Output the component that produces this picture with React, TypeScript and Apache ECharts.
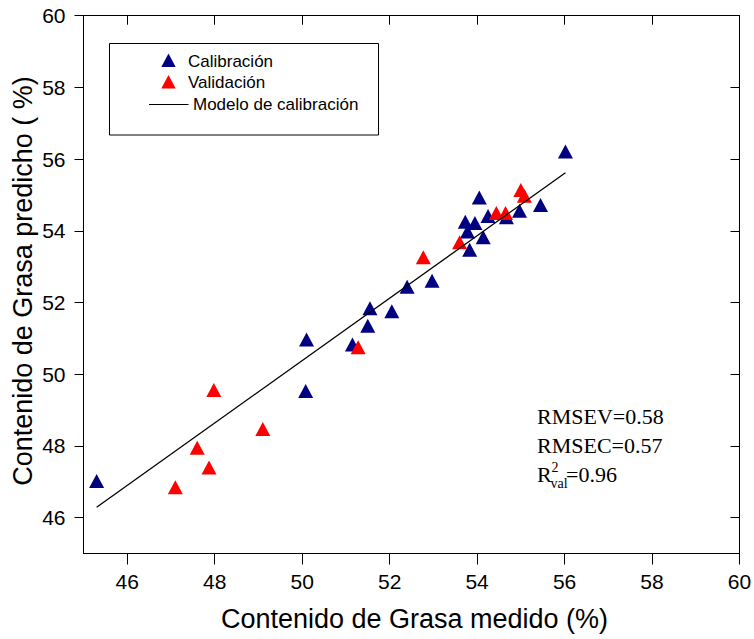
import React, { useEffect, useRef } from "react";
import * as echarts from "echarts";

// Calibration set: measured vs predicted fat content (%)
const calMeasured = [56.02, 54.05, 55.45, 54.97, 54.67, 54.25, 53.73, 53.95, 53.78, 54.14, 53.83, 52.97, 52.40, 51.55, 52.05, 51.50, 50.10, 51.15, 50.08, 45.30];
const calPredicted = [56.21, 54.93, 54.72, 54.56, 54.38, 54.41, 54.25, 54.22, 53.98, 53.82, 53.47, 52.61, 52.44, 51.84, 51.76, 51.35, 50.97, 50.83, 49.53, 47.02];

// Validation set
const valMeasured = [55.00, 55.08, 54.44, 54.65, 53.60, 52.77, 51.28, 47.98, 49.10, 47.60, 47.87, 47.10];
const valPredicted = [55.14, 54.98, 54.50, 54.50, 53.68, 53.26, 50.75, 49.56, 48.47, 47.95, 47.40, 46.85];

// Calibration model line end points
const modelMeasured = [45.30, 56.02];
const modelPredicted = [46.29, 55.62];

// Axis ticks
const xTicks = [46, 48, 50, 52, 54, 56, 58, 60];
const yTicks = [46, 48, 50, 52, 54, 56, 58, 60];

const statsLines = ["RMSEV=0.58", "RMSEC=0.57"];
const r2Value = "=0.96";

const legendNames = ["Calibración", "Validación", "Modelo de calibración"];

const NAVY = "#000080";
const RED = "#ff0000";
const SANS = "'Liberation Sans', Arial, sans-serif";
const SERIF = "'Liberation Serif', 'Times New Roman', serif";

const zip = (a: number[], b: number[]) => a.map((v, i) => [v, b[i]]);

function axisPair(kind: "x" | "y", ticks: number[]) {
  const main = {
    type: "value",
    min: 45,
    max: 60,
    position: kind === "x" ? "bottom" : "left",
    axisLine: { show: true, onZero: false, lineStyle: { color: "#000", width: 1 } },
    axisTick: {
      show: true,
      inside: false,
      length: kind === "x" ? 11 : 9,
      customValues: ticks,
      lineStyle: { color: "#000", width: 1 },
    },
    axisLabel: {
      show: true,
      customValues: ticks,
      margin: kind === "x" ? 17 : 18,
      fontSize: 21,
      color: "#000",
      fontFamily: SANS,
    },
    splitLine: { show: false },
  };
  const mirror = {
    type: "value",
    min: 45,
    max: 60,
    position: kind === "x" ? "top" : "right",
    axisLine: { show: true, onZero: false, lineStyle: { color: "#000", width: 1 } },
    axisTick: {
      show: true,
      inside: true,
      length: 9,
      customValues: ticks,
      lineStyle: { color: "#000", width: 1 },
    },
    axisLabel: { show: false },
    splitLine: { show: false },
  };
  return [main, mirror];
}

export default function App() {
  const ref = useRef<HTMLDivElement>(null);

  useEffect(() => {
    const chart = echarts.init(ref.current!, null, { renderer: "svg" });

    const triangle = (cx: number, cy: number, color: string) => ({
      type: "polygon",
      shape: { points: [[cx - 7.2, cy + 6.7], [cx + 7.2, cy + 6.7], [cx, cy - 6.7]] },
      style: { fill: color },
    });

    const legendText = (x: number, y: number, text: string) => ({
      type: "text",
      x,
      y,
      style: { text, fontSize: 17, fontFamily: SANS, fill: "#000", align: "left", verticalAlign: "middle" },
    });

    const statText = (x: number, y: number, text: string, size: number) => ({
      type: "text",
      x,
      y,
      style: { text, fontSize: size, fontFamily: SERIF, fill: "#000", align: "left", verticalAlign: "middle" },
    });

    chart.setOption({
      animation: false,
      backgroundColor: "#fff",
      grid: {
        left: 83.5,
        right: 14.5,
        top: 15.7,
        bottom: 85.5,
        containLabel: false,
        outerBoundsMode: "none",
      },
      xAxis: axisPair("x", xTicks),
      yAxis: axisPair("y", yTicks),
      series: [
        {
          name: legendNames[0],
          type: "scatter",
          xAxisIndex: 0,
          yAxisIndex: 0,
          symbol: "triangle",
          symbolSize: [15, 14],
          itemStyle: { color: NAVY, opacity: 1 },
          data: zip(calMeasured, calPredicted),
          z: 3,
        },
        {
          name: legendNames[1],
          type: "scatter",
          xAxisIndex: 0,
          yAxisIndex: 0,
          symbol: "triangle",
          symbolSize: [15, 14],
          itemStyle: { color: RED, opacity: 1 },
          data: zip(valMeasured, valPredicted),
          z: 4,
        },
        {
          name: legendNames[2],
          type: "line",
          xAxisIndex: 0,
          yAxisIndex: 0,
          showSymbol: false,
          symbol: "none",
          lineStyle: { color: "#000", width: 1.3 },
          data: zip(modelMeasured, modelPredicted),
          z: 5,
        },
      ],
      graphic: [
        // legend box
        {
          type: "rect",
          shape: { x: 109.5, y: 43.5, width: 269, height: 91.5 },
          style: { fill: "#fff", stroke: "#000", lineWidth: 1 },
          z: 10,
        },
        { ...triangle(168.5, 60.2, NAVY), z: 11 },
        legendText(188, 61.5, legendNames[0]),
        { ...triangle(168.5, 81.7, RED), z: 11 },
        legendText(188, 82.5, legendNames[1]),
        {
          type: "line",
          shape: { x1: 149, y1: 104.5, x2: 188.5, y2: 104.5 },
          style: { stroke: "#000", lineWidth: 1 },
          z: 11,
        },
        legendText(193, 104.8, legendNames[2]),
        // fit statistics
        statText(537, 416, statsLines[0], 22),
        statText(537, 445, statsLines[1], 22),
        statText(537, 474, "R", 22),
        statText(551.5, 467.5, "2", 14),
        statText(550.5, 483.5, "val", 14),
        statText(566, 474, r2Value, 22),
        // axis titles
        {
          type: "text",
          x: 414.5,
          y: 619,
          style: {
            text: "Contenido de Grasa medido (%)",
            fontSize: 27,
            fontFamily: SANS,
            fill: "#000",
            align: "center",
            verticalAlign: "middle",
          },
        },
        {
          type: "text",
          x: 23,
          y: 281,
          rotation: Math.PI / 2,
          style: {
            text: "Contenido de Grasa predicho ( %)",
            fontSize: 27,
            fontFamily: SANS,
            fill: "#000",
            align: "center",
            verticalAlign: "middle",
          },
        },
      ].map((g: any) => ({ z: 11, ...g })),
    });

    return () => chart.dispose();
  }, []);

  return (
    <div
      ref={ref}
      style={{ position: "fixed", left: 0, top: 0, width: 754, height: 639, background: "#fff" }}
    />
  );
}
